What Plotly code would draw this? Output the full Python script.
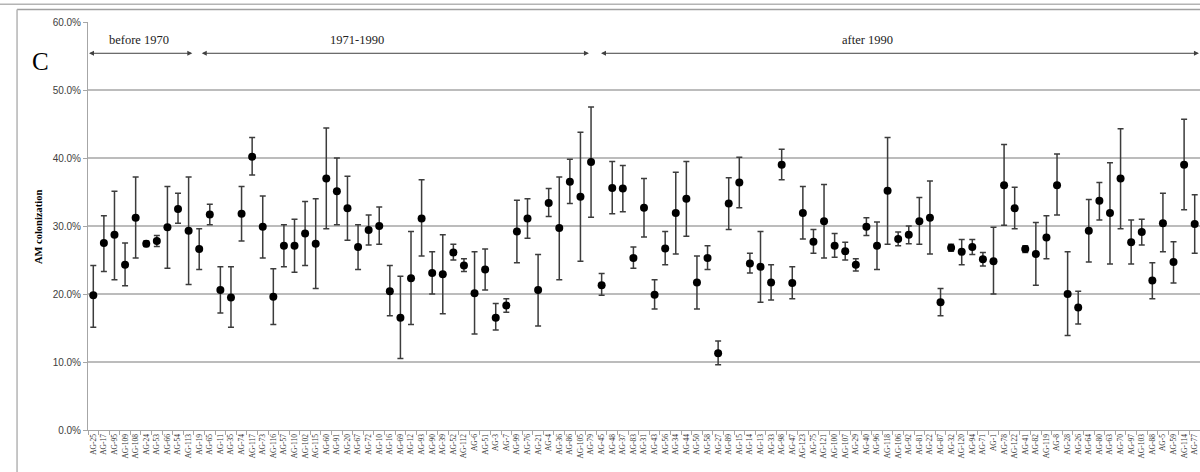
import plotly.graph_objects as go

# ---------------- data ----------------
labels = [
    "AG-25", "AG-17", "AG-95", "AG-109", "AG-108", "AG-24", "AG-53", "AG-66", "AG-54", "AG-113",
    "AG-19", "AG-65", "AG-11", "AG-35", "AG-74", "AG-117", "AG-73", "AG-116", "AG-57", "AG-110",
    "AG-102", "AG-115", "AG-60", "AG-91", "AG-20", "AG-67", "AG-72", "AG-10", "AG-16", "AG-69",
    "AG-12", "AG-93", "AG-90", "AG-39", "AG-52", "AG-112", "AG-6", "AG-51", "AG-3", "AG-7",
    "AG-99", "AG-76", "AG-21", "AG-4", "AG-36", "AG-86", "AG-105", "AG-79",
    "AG-45", "AG-48", "AG-37", "AG-83", "AG-31", "AG-43", "AG-56", "AG-34", "AG-44", "AG-50",
    "AG-58", "AG-27", "AG-89", "AG-15", "AG-14", "AG-13", "AG-33", "AG-98", "AG-47", "AG-123",
    "AG-75", "AG-121", "AG-100", "AG-107", "AG-29", "AG-40", "AG-96", "AG-118", "AG-106", "AG-92",
    "AG-81", "AG-22", "AG-87", "AG-32", "AG-120", "AG-94", "AG-71", "AG-1", "AG-78", "AG-122",
    "AG-41", "AG-82", "AG-119", "AG-8", "AG-28", "AG-26", "AG-64", "AG-80", "AG-63", "AG-70",
    "AG-97", "AG-103", "AG-88", "AG-5", "AG-59", "AG-114", "AG-77",
]

# mean AM colonization (%)
mean = [
    19.8, 27.5, 28.7, 24.3, 31.2, 27.4, 27.8, 29.8, 32.5, 29.3,
    26.6, 31.7, 20.6, 19.5, 31.8, 40.2, 29.9, 19.6, 27.1, 27.1,
    28.9, 27.4, 37.0, 35.1, 32.6, 26.9, 29.4, 30.0, 20.4, 16.5,
    22.3, 31.1, 23.1, 22.9, 26.1, 24.2, 20.1, 23.6, 16.5, 18.3,
    29.2, 31.1, 20.6, 33.4, 29.7, 36.5, 34.3, 39.4,
    21.3, 35.6, 35.5, 25.3, 32.7, 19.9, 26.7, 31.9, 34.0, 21.7,
    25.3, 11.3, 33.3, 36.4, 24.5, 24.0, 21.7, 39.0, 21.6, 31.9,
    27.7, 30.7, 27.1, 26.3, 24.3, 29.9, 27.1, 35.2, 28.1, 28.7,
    30.7, 31.2, 18.8, 26.8, 26.2, 26.9, 25.1, 24.8, 36.0, 32.6,
    26.6, 25.9, 28.3, 36.0, 20.0, 18.0, 29.3, 33.7, 31.9, 37.0,
    27.6, 29.1, 22.0, 30.4, 24.7, 39.0, 30.3,
]

# upper end of the error bar (%)
upper = [
    24.2, 31.5, 35.1, 27.5, 37.2, 27.8, 28.6, 35.8, 34.8, 37.2,
    29.6, 33.2, 24.0, 24.0, 35.8, 43.0, 34.4, 23.7, 30.2, 31.0,
    33.6, 34.0, 44.4, 40.0, 37.3, 30.2, 31.6, 32.8, 24.2, 22.6,
    29.2, 36.8, 26.2, 28.7, 27.3, 25.2, 26.2, 26.6, 18.6, 19.3,
    33.8, 34.0, 25.8, 35.5, 37.2, 39.8, 43.8, 47.5,
    23.0, 39.5, 38.9, 26.9, 37.0, 22.1, 29.2, 37.9, 39.5, 25.6,
    27.1, 13.1, 37.1, 40.1, 26.0, 29.2, 24.3, 41.3, 24.0, 35.8,
    29.5, 36.1, 28.9, 27.6, 25.2, 31.2, 30.6, 43.0, 29.1, 30.0,
    34.2, 36.6, 20.8, 27.3, 28.0, 28.0, 26.1, 29.8, 42.0, 35.7,
    27.1, 30.5, 31.5, 40.6, 26.2, 20.4, 33.9, 36.4, 39.3, 44.3,
    30.9, 31.0, 24.6, 34.8, 27.7, 45.7, 34.6,
]

# lower end of the error bar (%)
lower = [
    15.1, 23.3, 22.1, 21.2, 25.3, 27.0, 27.0, 23.8, 30.4, 21.4,
    23.6, 30.2, 17.2, 15.1, 27.8, 37.5, 25.3, 15.5, 24.0, 23.2,
    24.2, 20.8, 29.6, 30.2, 27.9, 23.6, 27.2, 27.3, 16.8, 10.5,
    15.5, 25.6, 20.0, 17.1, 25.0, 23.3, 14.1, 20.6, 14.7, 17.3,
    24.6, 28.2, 15.3, 31.4, 22.1, 33.3, 24.8, 31.3,
    19.8, 31.8, 32.1, 23.8, 28.4, 17.8, 24.3, 25.9, 28.5, 17.8,
    23.6, 9.6, 29.5, 32.7, 23.1, 18.8, 19.1, 36.8, 19.3, 28.1,
    26.0, 25.3, 25.4, 25.0, 23.4, 28.6, 23.6, 27.3, 27.1, 27.4,
    27.3, 25.9, 16.8, 26.3, 24.3, 25.8, 24.1, 20.0, 30.1, 29.6,
    26.1, 21.3, 25.2, 31.6, 13.9, 15.6, 24.7, 30.9, 24.4, 29.6,
    24.4, 27.2, 19.3, 26.2, 21.6, 32.4, 26.0,
]

period_names = ["before 1970", "1971-1990", "after 1990"]
y_ticks = [0, 10, 20, 30, 40, 50, 60]

# ---------------- figure ----------------
x = list(range(len(labels)))
y = [m / 100 for m in mean]
err_plus = [(u - m) / 100 for u, m in zip(upper, mean)]
err_minus = [(m - l) / 100 for m, l in zip(mean, lower)]

fig = go.Figure(
    go.Scatter(
        x=x, y=y, mode="markers",
        marker=dict(color="black", size=8),
        error_y=dict(type="data", symmetric=False, array=err_plus, arrayminus=err_minus,
                     color="#3c3c3c", thickness=1.5, width=3),
        showlegend=False,
    )
)

axis_grey = "#a6a6a6"
fig.update_layout(
    width=1200, height=472,
    margin=dict(l=88, r=0, t=22, b=42),
    paper_bgcolor="white", plot_bgcolor="white",
    xaxis=dict(
        range=[-0.5, len(labels) - 0.5],
        tickmode="array", tickvals=x, ticktext=labels, tickangle=-90,
        tickfont=dict(family="Liberation Serif", size=7.5, color="#333333"),
        showgrid=False, zeroline=False,
        showline=True, linecolor=axis_grey, linewidth=1,
        ticks="",
        minor=dict(tickmode="linear", tick0=-0.5, dtick=1, ticks="outside",
                   ticklen=4, tickcolor=axis_grey, showgrid=False),
    ),
    yaxis=dict(
        range=[0, 0.6],
        tickmode="array", tickvals=[t / 100 for t in y_ticks], tickformat=".1%",
        tickfont=dict(family="Liberation Sans", size=10, color="#404040"),
        showgrid=True, gridcolor="#bcbcbc", gridwidth=1.5,
        zeroline=False, showline=True, linecolor=axis_grey, linewidth=1,
        ticks="outside", ticklen=4, tickcolor=axis_grey,
    ),
)

# period labels and arrows
label_pos = [4.3, 24.9, 73.1]
arrow_span = [(-0.55, 9.35), (10.1, 46.8), (47.8, 104.4)]
for name, lx, (a0, a1) in zip(period_names, label_pos, arrow_span):
    fig.add_annotation(x=lx, y=0.573, xref="x", yref="y", text=name, showarrow=False,
                       font=dict(family="Liberation Serif", size=12.5, color="#222222"))
    fig.add_annotation(x=a1, y=0.554, ax=a0, ay=0.554, xref="x", yref="y",
                       axref="x", ayref="y", text="", showarrow=True,
                       arrowhead=2, arrowside="end+start", arrowsize=1,
                       arrowwidth=1, arrowcolor="#404040", standoff=0, startstandoff=0)

# panel letter and y title
fig.add_annotation(x=-0.0423, y=0.903, xref="paper", yref="paper", text="C", showarrow=False,
                   xanchor="center", yanchor="middle",
                   font=dict(family="Liberation Serif", size=25, color="black"))
fig.add_annotation(x=-0.045, y=0.4996, xref="paper", yref="paper",
                   text="<b>AM colonization</b>", textangle=-90, showarrow=False,
                   xanchor="center", yanchor="middle",
                   font=dict(family="Liberation Serif", size=10.5, color="black"))

# chart area borders (screenshot frame)
fig.add_shape(type="line", xref="paper", yref="paper", x0=-0.08, x1=1.0, y0=1.0433, y1=1.0433,
              line=dict(color="#b4b4b4", width=1.5))
fig.add_shape(type="line", xref="paper", yref="paper", x0=-0.0638, x1=1.0, y0=1.0304, y1=1.0304,
              line=dict(color="#a0a0a0", width=1.5))
fig.add_shape(type="line", xref="paper", yref="paper", x0=-0.0638, x1=-0.0638, y0=1.0304, y1=-0.11,
              line=dict(color="#b4b4b4", width=1.5))

fig.write_html("out.html", config={"displayModeBar": False},
               post_script="document.body.style.margin='0';document.body.style.overflow='hidden';")
